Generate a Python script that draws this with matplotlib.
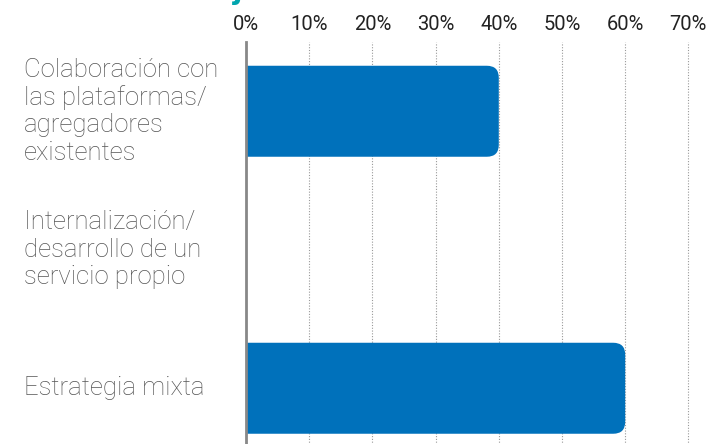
import matplotlib.pyplot as plt
from matplotlib.patches import FancyBboxPatch
from matplotlib.transforms import blended_transform_factory

# Datos
categorias = ['Colaboración con\nlas plataformas/\nagregadores\nexistentes',
              'Internalización/\ndesarrollo de un\nservicio propio',
              'Estrategia mixta']
valores = [0.40, 0.0, 0.60]
ticks = [0, 0.1, 0.2, 0.3, 0.4, 0.5, 0.6, 0.7]
tick_labels = ['0%', '10%', '20%', '30%', '40%', '50%', '60%', '70%']

azul = '#0071BB'
gris_texto = '#555555'

fig = plt.figure(figsize=(7.11, 4.44), dpi=100)
ax = fig.add_axes([246/711, -13.5/444, 1 - 246/711, 415.5/444])

y = list(range(len(categorias)))
ax.set_xlim(0, 465/632)
ax.set_ylim(2.5, -0.5)

# barras con esquinas derechas redondeadas
bars = ax.barh(y, valores, height=0.657, color=azul)
fig.canvas.draw()
px_x = ax.transData.transform((1, 0))[0] - ax.transData.transform((0, 0))[0]
px_y = abs(ax.transData.transform((0, 1))[1] - ax.transData.transform((0, 0))[1])
radio = 12 / px_x
for b in bars:
    b.set_visible(False)
    w = b.get_width()
    if w <= 0:
        continue
    p = FancyBboxPatch((-0.05, b.get_y()), w + 0.05, b.get_height(),
                       boxstyle=f'round,pad=0,rounding_size={radio}',
                       mutation_aspect=px_x / px_y,
                       facecolor=azul, edgecolor='none', zorder=3)
    ax.add_patch(p)

ax.set_xticks(ticks)
ax.set_xticklabels(tick_labels, family='Roboto')
ax.xaxis.tick_top()
ax.tick_params(axis='x', length=0, pad=6, labelsize=14.5, labelcolor='#222222')
ax.set_yticks([])
ax.grid(axis='x', linestyle=(0, (1, 1.5)), color='#999999', linewidth=0.8, zorder=0)
ax.set_axisbelow(True)
for s in ['top', 'right', 'bottom']:
    ax.spines[s].set_visible(False)
ax.spines['left'].set_color('#888888')
ax.spines['left'].set_linewidth(2)
ax.spines['left'].set_zorder(4)

trans = blended_transform_factory(fig.transFigure, ax.transData)
for yi, cat in zip(y, categorias):
    ax.text(24/711, yi, cat, transform=trans,
            ha='left', va='center', fontsize=18.5, color=gris_texto,
            family='Roboto', fontweight='light', linespacing=1.18)

# título cortado arriba
fig.text(233/711, 1 + 1/444, 'j', color='#00A5AE', fontsize=20,
         fontweight='bold', va='baseline', ha='left')

fig.savefig('out.png', dpi=100)
